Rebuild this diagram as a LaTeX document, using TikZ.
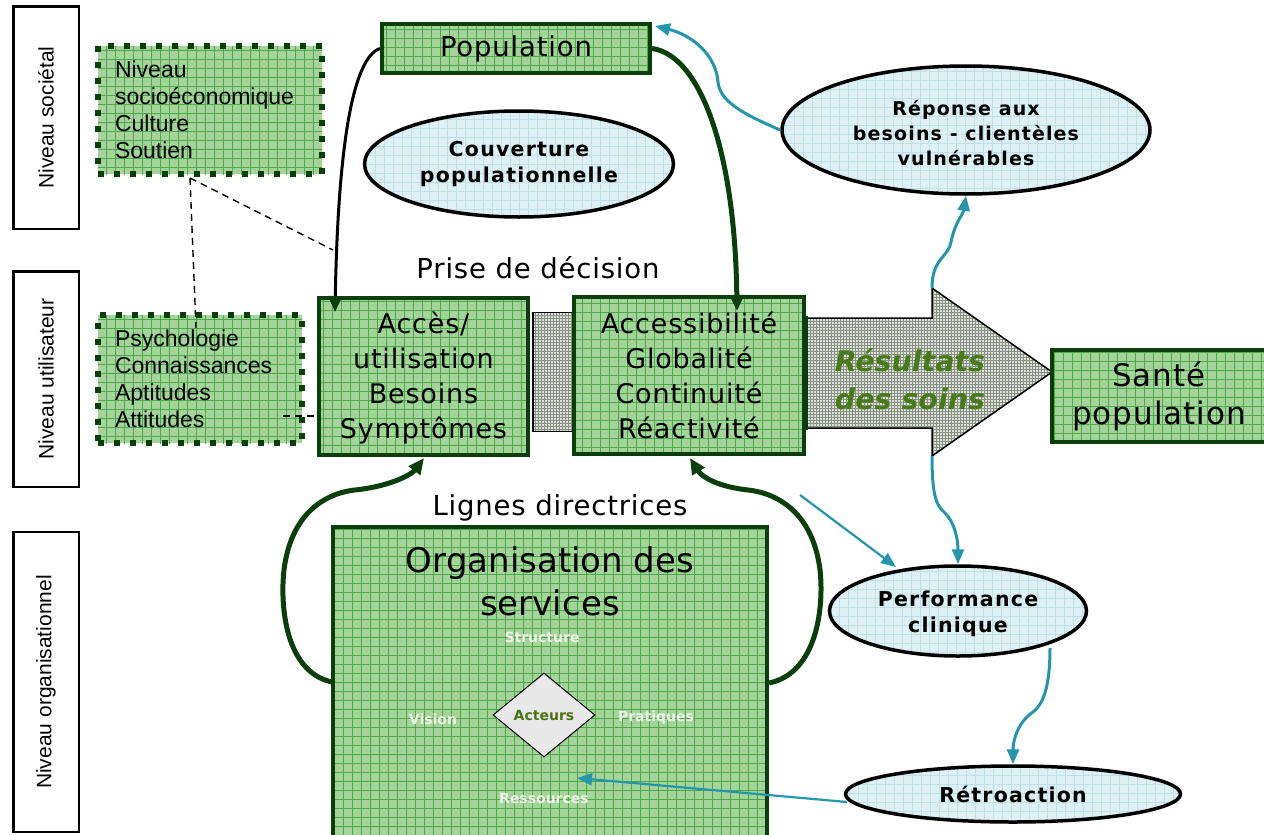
\documentclass[tikz,border=0pt]{standalone}
\usepackage{fontspec}
\setmainfont{DejaVu Sans}
\newfontfamily\arial{Liberation Sans}
\newfontfamily\dvs[LetterSpace=3]{DejaVu Sans}
\newfontfamily\dvb[LetterSpace=6]{DejaVu Sans}
\usetikzlibrary{arrows.meta,shapes.geometric,calc}
\definecolor{boxgreen}{RGB}{165,212,155}
\definecolor{gridgreen}{RGB}{75,168,75}
\definecolor{dkgreen}{RGB}{10,62,10}
\definecolor{ellblue}{RGB}{222,240,243}
\definecolor{ellgrid}{RGB}{190,225,230}
\definecolor{tealc}{RGB}{35,150,172}
\definecolor{checkbg}{RGB}{222,226,218}
\definecolor{checkln}{RGB}{135,145,130}
\definecolor{restext}{RGB}{72,122,26}
\definecolor{acttext}{RGB}{75,115,20}
\definecolor{whitelab}{RGB}{240,242,232}
\tikzset{
  gridfill/.style 2 args={path picture={\draw[#1,line width=#2,solid]
      ([shift={(-30pt,-30pt)}]path picture bounding box.south west) grid[step=9pt]
      ([shift={(30pt,30pt)}]path picture bounding box.north east);}},
  checkfill/.style={fill=checkbg,path picture={\draw[checkln,line width=0.8pt,solid]
      ([shift={(-10pt,-10pt)}]path picture bounding box.south west) grid[step=3pt]
      ([shift={(10pt,10pt)}]path picture bounding box.north east);}},
  gbox/.style={draw=dkgreen,line width=4pt,fill=boxgreen,gridfill={gridgreen}{0.7pt},
      inner sep=0pt,align=center,font=\dvs\fontsize{27}{35}\selectfont},
  dotbox/.style={draw=dkgreen,line width=6pt,dash pattern=on 6pt off 10pt,fill=boxgreen,
      gridfill={gridgreen}{0.7pt},inner sep=0pt,align=left,
      font=\arial\fontsize{23}{27}\selectfont},
  ell/.style={ellipse,draw=black,line width=3.5pt,fill=ellblue,gridfill={ellgrid}{0.6pt},
      inner sep=0pt,align=center,font=\dvb\bfseries\fontsize{20.5}{26}\selectfont},
  lvl/.style={draw=black,line width=2.5pt,rotate=90,inner sep=0pt,
      font=\arial\fontsize{21}{25}\selectfont},
  lab/.style={inner sep=0pt,align=center},
  wlab/.style={inner sep=0pt,text=whitelab,font=\bfseries\fontsize{14}{16}\selectfont},
  bluearr/.style={draw=tealc,line width=3pt,-{Triangle[length=15pt,width=12pt]}},
  bluethin/.style={draw=tealc,line width=2.2pt,-{Triangle[length=15pt,width=12pt]}},
  greenarr/.style={draw=dkgreen,line width=5pt,-{Triangle[length=16pt,width=14pt]}},
  dashln/.style={draw=black,line width=1.4pt,dash pattern=on 7pt off 5pt},
}
\begin{document}
\begin{tikzpicture}[x=1pt,y=-1pt]
\useasboundingbox (0,0) rectangle (1264,835);

% level labels
\node[lvl,minimum width=222.5pt,minimum height=65.5pt] (l1) at (46,117.5) {Niveau sociétal};
\node[lvl,minimum width=215.5pt,minimum height=65.5pt] (l2) at (46,379) {Niveau utilisateur};
\node[lvl,minimum width=300pt,minimum height=65.5pt] (l3) at (46,682) {Niveau organisationnel};

% dotted boxes
\node[dotbox,minimum width=224pt,minimum height=128pt,text width=190pt] (soc) at (210,110)
  {Niveau\\socioéconomique\\Culture\\Soutien};
\node[dotbox,minimum width=204pt,minimum height=128pt,text width=170pt] (usr) at (200,379)
  {Psychologie\\Connaissances\\Aptitudes\\Attitudes};

% dashed links
\coordinate (d0) at (190,178);
\coordinate (d1) at (333,250);
\coordinate (d2) at (196,328);
\coordinate (d3) at (283,416);
\draw[dashln] (d0) -- (d1);
\draw[dashln] (d0) -- (d2);

% main boxes
\node[gbox,minimum width=268pt,minimum height=49pt,font=\dvs\fontsize{27.5}{30}\selectfont] (pop) at (516,48.5) {Population};
\node[ell,minimum width=309pt,minimum height=106pt] (couv) at (519,164) {Couverture\\populationnelle};
\node[lab,font=\dvs\fontsize{27.5}{30}\selectfont] (prise) at (538,268) {Prise de décision};

\node[checkfill,draw=black,line width=1.5pt,minimum width=40pt,minimum height=119pt,inner sep=0pt] (mid) at (553,372) {};
\node[gbox,minimum width=209pt,minimum height=157pt] (acc) at (423.5,376)
  {\parbox{200pt}{\centering\vspace*{5pt}Accès/\\utilisation\\Besoins\\Symptômes}};
\node[gbox,minimum width=230pt,minimum height=157pt] (acb) at (689,375)
  {Accessibilité\\Globalité\\Continuité\\Réactivité};
\coordinate (d4) at (acc.west |- d3);
\draw[dashln] (d3) -- (d4);

% big arrow
\draw[checkfill,draw=black,line width=1.5pt]
  (806,318) -- (932,318) -- (932,288) -- (1052,372) -- (932,456) -- (932,428) -- (806,428) -- cycle;
\draw[dkgreen,line width=4pt] (806,316) -- (806,430);
\node[lab,text=restext,font=\bfseries\itshape\fontsize{28.5}{38}\selectfont] (res) at (910,379) {Résultats\\des soins};
\coordinate (atop) at (932,288);
\coordinate (abot) at (932,456);

\node[gbox,minimum width=214pt,minimum height=92pt,font=\dvs\fontsize{31}{38}\selectfont] (sante) at (1159,396) {Santé\\population};

% ellipses on the right
\node[ell,minimum width=368pt,minimum height=128pt,font=\dvb\bfseries\fontsize{19}{25}\selectfont] (rep) at (966,130)
  {\parbox{235pt}{\centering\vspace*{6pt}Réponse aux\\besoins - clientèles\\vulnérables}};
\node[ell,minimum width=257pt,minimum height=90pt] (perf) at (958,611)
  {\parbox{165pt}{\centering\vspace*{6pt}Performance\\clinique}};
\node[ell,minimum width=335pt,minimum height=56pt] (retro) at (1013,794) {Rétroaction};

% organisation
\node[lab,font=\dvs\fontsize{27.5}{30}\selectfont] (lignes) at (560,508) {Lignes directrices};
\node[gbox,minimum width=434pt,minimum height=310pt] (org) at (550,682) {};
\node[lab,font=\fontsize{34}{43}\selectfont] (orgt) at (550,581) {Organisation des\\services};
\node[wlab] (struct) at (542,637) {Structure};
\node[wlab] (vision) at (433,719) {Vision};
\node[wlab] (prat) at (656,718) {Pratiques};
\node[wlab] (ress) at (544,798) {Ressources};
\node[diamond,draw=black,line width=1pt,fill=black!9,minimum width=102pt,minimum height=84pt,
  inner sep=0pt,text=acttext,font=\bfseries\fontsize{14}{16}\selectfont] (act) at (544,715) {Acteurs};

% dark connectors
\coordinate (accin) at (335,312);
\coordinate (acbin) at (737,311);
\draw[black,line width=3pt,-{Triangle[length=16pt,width=14pt,color=dkgreen]}]
  (pop.west) .. controls (352,58) and (338,150) .. (accin);
\draw[greenarr] (pop.east) .. controls (700,55) and (735,150) .. (acbin);

\coordinate (orgl) at (332,682);
\coordinate (orgr) at (769,683);
\coordinate (accb) at (424,458);
\coordinate (acbb) at (690,458);
\draw[greenarr] (orgl) .. controls (285,672) and (280,605) .. (284,570)
  .. controls (292,505) and (335,492) .. (355,490)
  .. controls (392,486) and (412,474) .. (accb);
\draw[greenarr] (orgr) .. controls (818,673) and (824,605) .. (820,570)
  .. controls (812,505) and (768,492) .. (748,490)
  .. controls (712,486) and (700,474) .. (acbb);

% teal connectors
\coordinate (popne) at (655,26);
\draw[bluearr] (rep.west) .. controls (738,112) and (720,100) .. (718,82)
  .. controls (716,55) and (692,35) .. (popne);
\draw[bluearr] (atop) .. controls (932,258) and (948,258) .. (951,242)
  .. controls (955,222) and (963,215) .. (rep.south);
\draw[bluearr] (abot) .. controls (932,490) and (935,505) .. (944,512)
  .. controls (955,522) and (958,540) .. (perf.north);
\coordinate (fr) at (800,495);
\coordinate (perfin) at (896,567);
\draw[bluethin] (fr) -- (perfin);
\coordinate (perfout) at (1050,648);
\draw[bluearr] (perfout) .. controls (1050,690) and (1042,705) .. (1033,712)
  .. controls (1018,722) and (1013,740) .. (retro.north);
\coordinate (retl) at (847,802);
\coordinate (orgin) at (577,778);
\draw[bluethin] (retl) -- (orgin);
\end{tikzpicture}
\end{document}
